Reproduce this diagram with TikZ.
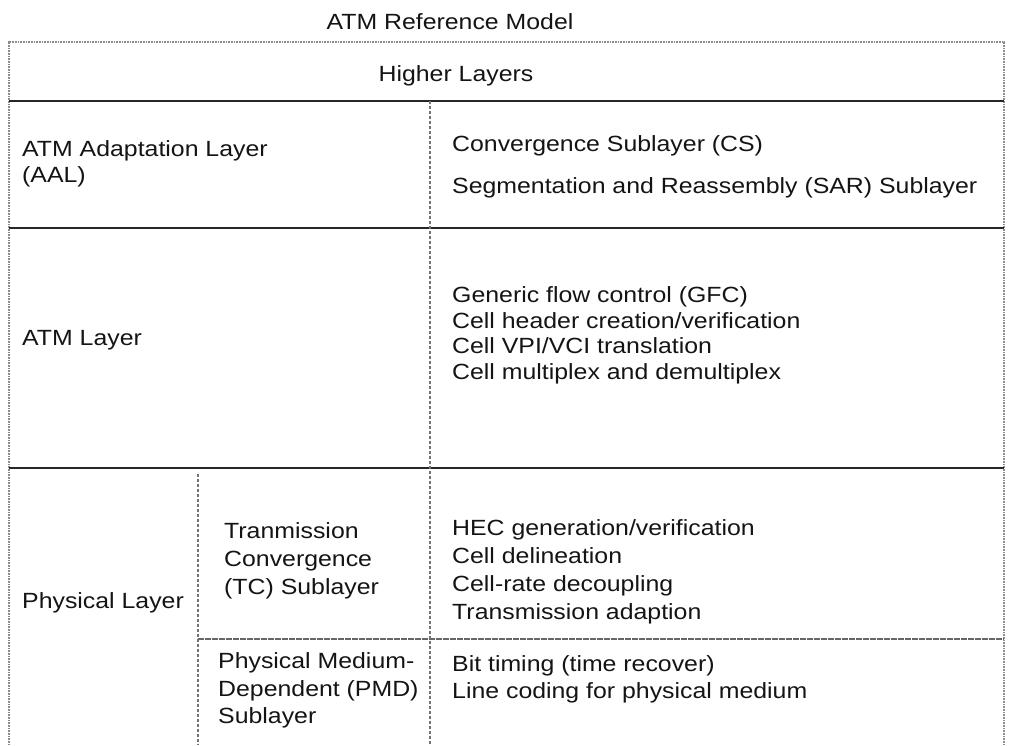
\documentclass[tikz,border=0pt]{standalone}
\usepackage{fontspec}
\setmainfont{Liberation Sans}[FakeStretch=1.13]
\begin{document}
\begin{tikzpicture}[x=1pt,y=-1pt,
  txt/.style={inner sep=0pt,anchor=base west,text=black!92,font=\fontsize{22}{26}\selectfont},
  ctxt/.style={txt,anchor=base},
  border/.style={draw=black!45,line width=1.3pt,dash pattern=on 1pt off 0.6pt},
  solidline/.style={draw=black!85,line width=2pt},
  dotline/.style={draw=black!55,line width=1.4pt,dash pattern=on 2.5pt off 2.5pt},
  thinline/.style={draw=black!60,line width=1.4pt,dash pattern=on 6pt off 1pt}]
\useasboundingbox (0,0) rectangle (1010,745);
% frame coordinates
\coordinate (tl) at (9,42);
\coordinate (tr) at (1004,42);
\coordinate (bl) at (9,745);
\coordinate (br) at (1004,745);
\coordinate (h1l) at (9,101);   \coordinate (h1r) at (1004,101);
\coordinate (h2l) at (9,228);   \coordinate (h2r) at (1004,228);
\coordinate (h3l) at (9,468);   \coordinate (h3r) at (1004,468);
\coordinate (h4l) at (198,639); \coordinate (h4r) at (1004,639);
\coordinate (v1t) at (430,101); \coordinate (v1b) at (430,745);
\coordinate (v2t) at (198,474); \coordinate (v2b) at (198,745);
% lines
\draw[border] (bl) -- (tl) -- (tr) -- (br);
\draw[solidline] (h1l) -- (h1r);
\draw[solidline] (h2l) -- (h2r);
\draw[solidline] (h3l) -- (h3r);
\draw[thinline] (h4l) -- (h4r);
\draw[dotline] (v1t) -- (v1b);
\draw[dotline] (v2t) -- (v2b);
% texts
\node[ctxt] (title) at (450,29) {ATM Reference Model};
\node[ctxt] (higher) at (456,81) {Higher Layers};
\node[txt] (aal1) at (22,156) {ATM Adaptation Layer};
\node[txt] (aal2) at (22,182) {(AAL)};
\node[txt] (cs) at (452,151) {Convergence Sublayer (CS)};
\node[txt] (sar) at (452,193) {Segmentation and Reassembly (SAR) Sublayer};
\node[txt] (atm) at (22,345) {ATM Layer};
\node[txt] (atm1) at (452,302) {Generic flow control (GFC)};
\node[txt] (atm2) at (452,328) {Cell header creation/verification};
\node[txt] (atm3) at (452,353) {Cell VPI/VCI translation};
\node[txt] (atm4) at (452,379) {Cell multiplex and demultiplex};
\node[txt] (phys) at (22,608) {Physical Layer};
\node[txt] (tc1) at (224,538) {Tranmission};
\node[txt] (tc2) at (224,566) {Convergence};
\node[txt] (tc3) at (224,594) {(TC) Sublayer};
\node[txt] (tcl1) at (452,535) {HEC generation/verification};
\node[txt] (tcl2) at (452,563) {Cell delineation};
\node[txt] (tcl3) at (452,591) {Cell-rate decoupling};
\node[txt] (tcl4) at (452,619) {Transmission adaption};
\node[txt] (pmd1) at (218,668) {Physical Medium-};
\node[txt] (pmd2) at (218,696) {Dependent (PMD)};
\node[txt] (pmd3) at (218,723) {Sublayer};
\node[txt] (pmdl1) at (452,671) {Bit timing (time recover)};
\node[txt] (pmdl2) at (452,698) {Line coding for physical medium};
\end{tikzpicture}
\end{document}
